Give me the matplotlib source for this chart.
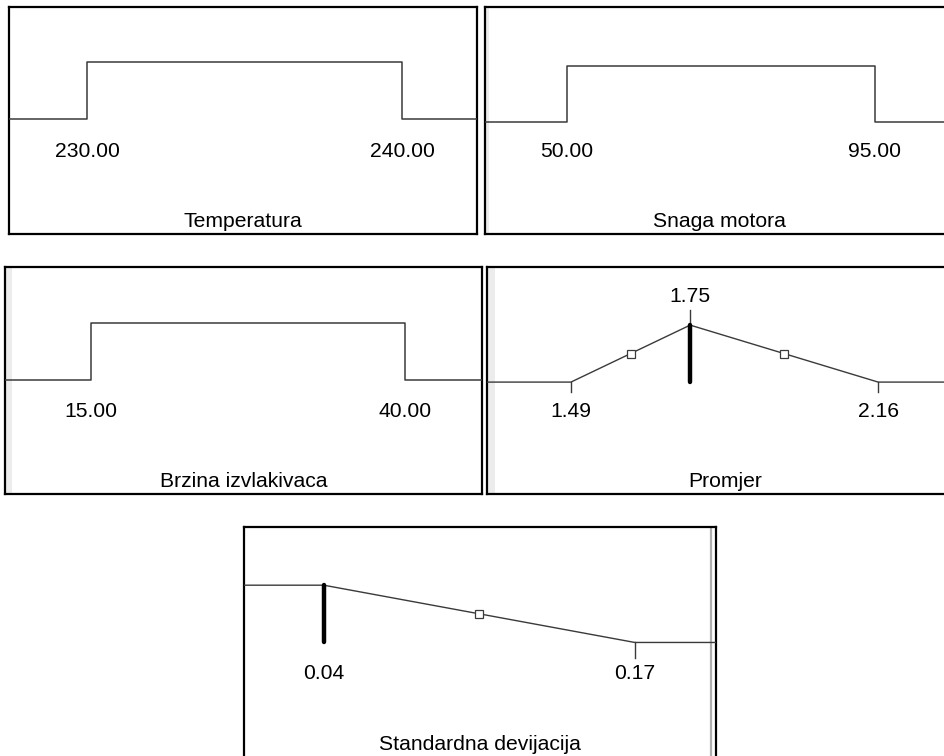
import matplotlib
matplotlib.use("Agg")
import matplotlib.pyplot as plt
from matplotlib.patches import Rectangle

plt.rcParams["font.family"] = ["Liberation Sans", "DejaVu Sans"]

# Desirability settings for each factor / response
names = ["Temperatura", "Snaga motora", "Brzina izvlakivaca", "Promjer", "Standardna devijacija"]
goals = ["in range", "in range", "in range", "target", "minimize"]
lower = [230.00, 50.00, 15.00, 1.49, 0.04]
upper = [240.00, 95.00, 40.00, 2.16, 0.17]
target = [None, None, None, 1.75, None]
solution = [None, None, None, 1.75, 0.04]

W, H = 944, 756
fig = plt.figure(figsize=(W / 100, H / 100), dpi=100)

# Panel frames in pixels: (left, top, right, bottom)
frames = [(9, 7, 477, 234), (485, 7, 953, 234), (5, 267, 482, 494),
          (487, 267, 964, 494), (244, 527, 716, 757)]
# Where the lower / upper limits sit across each panel (axes fraction)
xfrac = [(0.167, 0.840), (0.175, 0.833), (0.180, 0.839), (0.176, 0.820), (0.169, 0.828)]
# Vertical placement of desirability 0 and 1 (axes fraction)
yfrac = [(0.507, 0.758), (0.493, 0.740), (0.502, 0.753), (0.493, 0.744), (0.498, 0.747)]
tick_len = [0, 0, 0, 0.18, 0.28]

LINE = "#3a3a3a"
FS = 15.2


def px_rect(x0, y0, x1, y1):
    return [x0 / W, 1 - y1 / H, (x1 - x0) / W, (y1 - y0) / H]


for i in range(5):
    x0, y0, x1, y1 = frames[i]
    ax = fig.add_axes(px_rect(x0, y0, x1, y1))
    lo, hi = lower[i], upper[i]
    fl, fh = xfrac[i]
    span = (hi - lo) / (fh - fl)
    xmin = lo - fl * span
    xmax = xmin + span
    d0, d1 = yfrac[i]
    per = 1.0 / (d1 - d0)
    ax.set_xlim(xmin, xmax)
    ax.set_ylim(-d0 * per, (1 - d0) * per)
    ax.set_xticks([])
    ax.set_yticks([])
    for s in ax.spines.values():
        s.set_linewidth(1.6)
        s.set_color("black")

    g = goals[i]
    ticked = []
    if g == "in range":
        xs = [xmin, lo, lo, hi, hi, xmax]
        ds = [0, 0, 1, 1, 0, 0]
        ax.plot(xs, ds, color=LINE, lw=1.1, zorder=3)
    elif g == "target":
        t = target[i]
        ax.plot([xmin, lo, t, hi, xmax], [0, 0, 1, 0, 0], color=LINE, lw=1.0, zorder=3)
        ax.plot([(lo + t) / 2, (t + hi) / 2], [0.5, 0.5], ls="none", marker="s",
                ms=5.8, mfc="white", mec=LINE, mew=0.9, zorder=4)
        ax.plot([t, t], [1, 1 + 0.26], color=LINE, lw=1.0)
        ax.text(t, 1 + 0.26 + 0.08, f"{t:.2f}", ha="center", va="bottom", fontsize=FS)
        ticked = [lo, hi]
    elif g == "minimize":
        ax.plot([xmin, lo, hi, xmax], [1, 1, 0, 0], color=LINE, lw=1.0, zorder=3)
        ax.plot([(lo + hi) / 2], [0.5], ls="none", marker="s",
                ms=5.8, mfc="white", mec=LINE, mew=0.9, zorder=4)
        ticked = [hi]

    for v in ticked:
        ax.plot([v, v], [0, -tick_len[i]], color=LINE, lw=1.0)

    if solution[i] is not None:
        ax.plot([solution[i], solution[i]], [0, 1], color="black", lw=3.2,
                solid_capstyle="round", zorder=5)

    ytxt = -d0 * per + 0.365 * per
    for v in (lo, hi):
        ax.text(v, ytxt, f"{v:.2f}", ha="center", va="center", fontsize=FS)
    ax.text(0.5, 0.055, names[i], transform=ax.transAxes, ha="center",
            va="center", fontsize=FS)

    if i == 1:
        ax.spines["right"].set_visible(False)
        ax.add_patch(Rectangle((0.002, 0), 0.006, 1, transform=ax.transAxes,
                               color="#ececec", zorder=1, lw=0))
    if i == 2:
        ax.add_patch(Rectangle((0.002, 0), 0.012, 1, transform=ax.transAxes,
                               color="#ececec", zorder=1, lw=0))
    if i == 3:
        ax.spines["right"].set_visible(False)
        ax.add_patch(Rectangle((0.003, 0), 0.014, 1, transform=ax.transAxes,
                               color="#ececec", zorder=1, lw=0))
    if i == 4:
        ax.spines["bottom"].set_visible(False)
        ax.axvline(xmin + (711 - x0) / (x1 - x0) * span, color="#b0b0b0", lw=1.6)

fig.savefig("out.png", dpi=100)
